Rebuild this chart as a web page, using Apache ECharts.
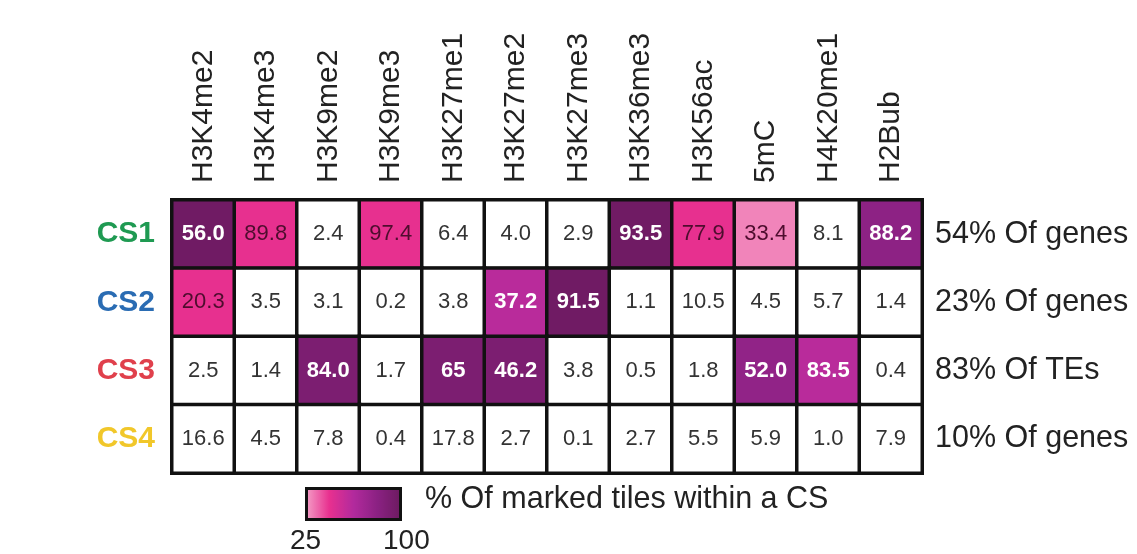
<!DOCTYPE html>
<html>
<head>
<meta charset="utf-8">
<title>Chromatin states</title>
<script src="https://cdn.jsdelivr.net/npm/echarts@6/dist/echarts.min.js"></script>
<style>
  html, body { margin: 0; padding: 0; background: #fff; }
  #chart { width: 1137px; height: 554px; }
</style>
</head>
<body>
<div id="chart"></div>
<script>
const marks = ['H3K4me2', 'H3K4me3', 'H3K9me2', 'H3K9me3', 'H3K27me1', 'H3K27me2',
  'H3K27me3', 'H3K36me3', 'H3K56ac', '5mC', 'H4K20me1', 'H2Bub']
const states = ['CS1', 'CS2', 'CS3', 'CS4']
const stateColors = ['#1f9a52', '#2a6cb3', '#e0404c', '#f1c72a']
const stateNotes = ['54% Of genes', '23% Of genes', '83% Of TEs', '10% Of genes']

// cell values as printed
const cs1 = ['56.0', '89.8', '2.4', '97.4', '6.4', '4.0', '2.9', '93.5', '77.9', '33.4', '8.1', '88.2']
const cs2 = ['20.3', '3.5', '3.1', '0.2', '3.8', '37.2', '91.5', '1.1', '10.5', '4.5', '5.7', '1.4']
const cs3 = ['2.5', '1.4', '84.0', '1.7', '65', '46.2', '3.8', '0.5', '1.8', '52.0', '83.5', '0.4']
const cs4 = ['16.6', '4.5', '7.8', '0.4', '17.8', '2.7', '0.1', '2.7', '5.5', '5.9', '1.0', '7.9']

const cs1Shade = [97, 44, 0, 44, 0, 0, 0, 97, 44, 30, 0, 80]
const cs2Shade = [44, 0, 0, 0, 0, 60, 97, 0, 0, 0, 0, 0]
const cs3Shade = [0, 0, 90, 0, 90, 90, 0, 0, 0, 78, 60, 0]
const cs4Shade = [0, 0, 0, 0, 0, 0, 0, 0, 0, 0, 0, 0]

const keyMin = 25
const keyMax = 100

const font = "'Liberation Sans', Arial, Helvetica, sans-serif"
const values = [cs1, cs2, cs3, cs4]
const shades = [cs1Shade, cs2Shade, cs3Shade, cs4Shade]

const data = []
values.forEach((row, r) => {
  row.forEach((txt, c) => {
    data.push([c, r, shades[r][c], txt])
  })
})

const chart = echarts.init(document.getElementById('chart'))
chart.setOption({
  backgroundColor: '#fff',
  animation: false,
  grid: { left: 172, top: 200, width: 750, height: 273 },
  xAxis: {
    type: 'category',
    position: 'top',
    data: marks,
    axisLine: { show: false },
    axisTick: { show: false },
    splitLine: { show: false },
    axisLabel: {
      rotate: -90,
      interval: 0,
      margin: 17,
      fontSize: 30,
      fontFamily: font,
      color: '#222',
    },
  },
  yAxis: [
    {
      type: 'category',
      data: states,
      inverse: true,
      axisLine: { show: false },
      axisTick: { show: false },
      axisLabel: {
        margin: 17,
        fontSize: 30,
        fontWeight: 'bold',
        fontFamily: font,
        color: (v, i) => stateColors[i],
      },
    },
    {
      type: 'category',
      data: stateNotes,
      inverse: true,
      position: 'right',
      axisLine: { show: false },
      axisTick: { show: false },
      axisLabel: {
        margin: 13,
        fontSize: 30.5,
        fontFamily: font,
        color: '#222',
      },
    },
  ],
  visualMap: {
    type: 'continuous',
    dimension: 2,
    min: keyMin,
    max: keyMax,
    unboundedRange: false,
    orient: 'horizontal',
    left: 305,
    top: 487,
    itemWidth: 34,
    itemHeight: 97,
    text: null,
    calculable: false,
    hoverLink: false,
    padding: 0,
    inRange: { color: ['#f4a2c9', '#e8308f', '#b22a9d', '#8a2182', '#6b1a5e'] },
    outOfRange: { color: '#ffffff' },
  },
  graphic: [
    // frame round the colour key
    { type: 'rect', z: 100, shape: { x: 306.5, y: 488.5, width: 94, height: 31 }, style: { fill: null, stroke: '#111', lineWidth: 3 } },
    { type: 'text', left: 425, top: 484, style: { text: '% Of marked tiles within a CS', font: '30.5px ' + font, fill: '#222' } },
    { type: 'text', left: 290, top: 527, style: { text: String(keyMin), font: '28px ' + font, fill: '#222' } },
    { type: 'text', left: 383, top: 527, style: { text: String(keyMax), font: '28px ' + font, fill: '#222' } },
  ],
  series: [
    {
      type: 'heatmap',
      data: data,
      itemStyle: { borderColor: '#111', borderWidth: 3.5 },
      emphasis: { disabled: true },
      label: {
        show: true,
        formatter: p => {
          const s = p.data[2]
          const k = s >= 55 ? 'w' : s > 0 ? 'p' : 'n'
          return '{' + k + '|' + p.data[3] + '}'
        },
        rich: {
          w: { color: '#fff', fontWeight: 'bold', fontSize: 22, fontFamily: font },
          p: { color: '#4e0d2e', fontSize: 22, fontFamily: font },
          n: { color: '#333', fontSize: 22, fontFamily: font },
        },
      },
    },
  ],
})
</script>
</body>
</html>
